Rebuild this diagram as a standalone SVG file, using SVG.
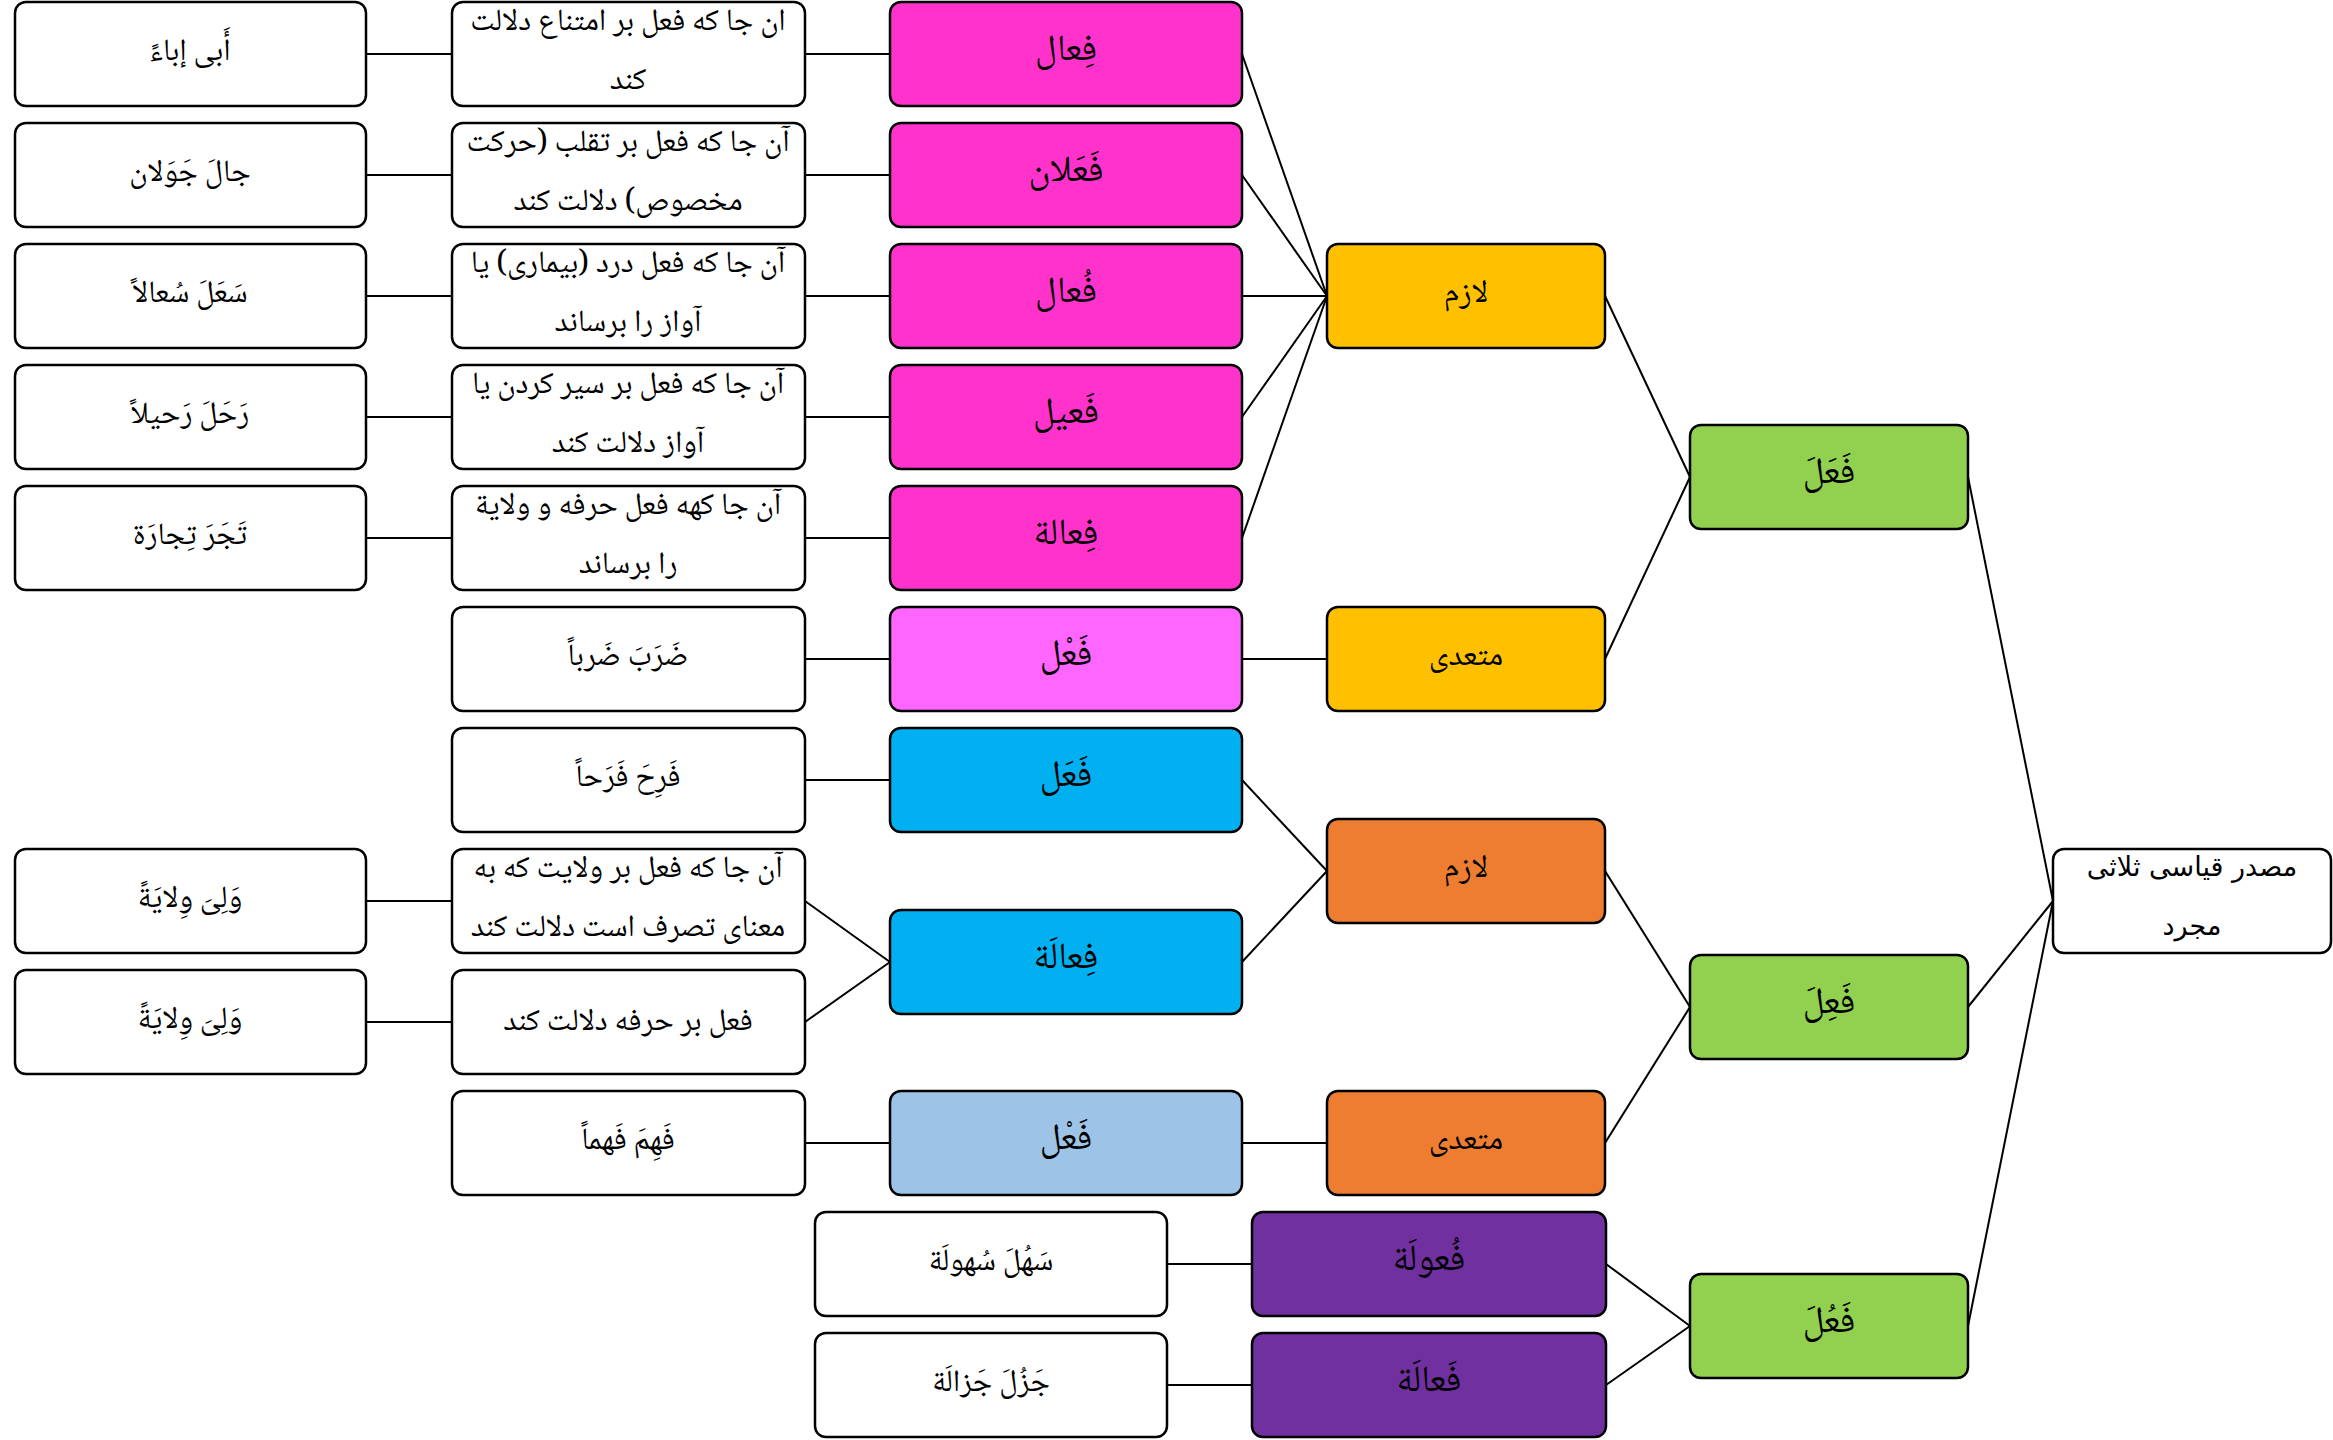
<svg xmlns="http://www.w3.org/2000/svg" width="2333" height="1440" viewBox="0 0 2333 1440">
  <style>
    .box { stroke: #000; stroke-width: 2.5; }
    .w { fill: #ffffff; }
    .mg { fill: #ff33cc; }
    .mgl { fill: #ff66ff; }
    .yl { fill: #ffc000; }
    .bl { fill: #00b0f0; }
    .lb { fill: #9dc3e6; }
    .or { fill: #ed7d31; }
    .pu { fill: #7030a0; }
    .gr { fill: #92d050; }
    text { font-family: "Noto Naskh Arabic", "Liberation Serif", "DejaVu Sans", serif; fill: #000; text-anchor: middle; direction: rtl; }
    .ex { font-size: 31px; }
    .ds { font-size: 31px; }
    .pt { font-size: 37px; }
    .ty { font-size: 32px; }
    .rt { font-family: "DejaVu Sans", "Liberation Sans", sans-serif; font-size: 27px; }
    .cn line { stroke: #000; stroke-width: 2; fill: none; }
  </style>

  <!-- connectors -->
  <g id="connectors" class="cn">
    <!-- examples to descriptions -->
    <line x1="366" y1="54" x2="452" y2="54"/>
    <line x1="366" y1="175" x2="452" y2="175"/>
    <line x1="366" y1="296" x2="452" y2="296"/>
    <line x1="366" y1="417" x2="452" y2="417"/>
    <line x1="366" y1="538" x2="452" y2="538"/>
    <line x1="366" y1="901" x2="452" y2="901"/>
    <line x1="366" y1="1022" x2="452" y2="1022"/>
    <!-- descriptions to patterns -->
    <line x1="805" y1="54" x2="890" y2="54"/>
    <line x1="805" y1="175" x2="890" y2="175"/>
    <line x1="805" y1="296" x2="890" y2="296"/>
    <line x1="805" y1="417" x2="890" y2="417"/>
    <line x1="805" y1="538" x2="890" y2="538"/>
    <line x1="805" y1="659" x2="890" y2="659"/>
    <line x1="805" y1="780" x2="890" y2="780"/>
    <line x1="805" y1="901" x2="890" y2="962"/>
    <line x1="805" y1="1022" x2="890" y2="962"/>
    <line x1="805" y1="1143" x2="890" y2="1143"/>
    <line x1="1167" y1="1264" x2="1252" y2="1264"/>
    <line x1="1167" y1="1385" x2="1252" y2="1385"/>
    <!-- patterns to transitivity -->
    <line x1="1242" y1="54" x2="1327" y2="296"/>
    <line x1="1242" y1="175" x2="1327" y2="296"/>
    <line x1="1242" y1="296" x2="1327" y2="296"/>
    <line x1="1242" y1="417" x2="1327" y2="296"/>
    <line x1="1242" y1="538" x2="1327" y2="296"/>
    <line x1="1242" y1="659" x2="1327" y2="659"/>
    <line x1="1242" y1="780" x2="1327" y2="871"/>
    <line x1="1242" y1="962" x2="1327" y2="871"/>
    <line x1="1242" y1="1143" x2="1327" y2="1143"/>
    <!-- to verb forms -->
    <line x1="1605" y1="296" x2="1690" y2="477"/>
    <line x1="1605" y1="659" x2="1690" y2="477"/>
    <line x1="1605" y1="871" x2="1690" y2="1007"/>
    <line x1="1605" y1="1143" x2="1690" y2="1007"/>
    <line x1="1606" y1="1264" x2="1690" y2="1326"/>
    <line x1="1606" y1="1385" x2="1690" y2="1326"/>
    <!-- verb forms to root -->
    <line x1="1968" y1="477" x2="2053" y2="901"/>
    <line x1="1968" y1="1007" x2="2053" y2="901"/>
    <line x1="1968" y1="1326" x2="2053" y2="901"/>
  </g>

  <!-- example words -->
  <g id="ex1"><rect class="box w" x="15" y="2" width="351" height="104" rx="11"/><text class="ex" x="190" y="60">أَبی إباءً</text></g>
  <g id="ex2"><rect class="box w" x="15" y="123" width="351" height="104" rx="11"/><text class="ex" x="190" y="181">جالَ جَوَلان</text></g>
  <g id="ex3"><rect class="box w" x="15" y="244" width="351" height="104" rx="11"/><text class="ex" x="190" y="302">سَعَلَ سُعالاً</text></g>
  <g id="ex4"><rect class="box w" x="15" y="365" width="351" height="104" rx="11"/><text class="ex" x="190" y="423">رَحَلَ رَحیلاً</text></g>
  <g id="ex5"><rect class="box w" x="15" y="486" width="351" height="104" rx="11"/><text class="ex" x="190" y="544">تَجَرَ تِجارَة</text></g>
  <g id="ex8"><rect class="box w" x="15" y="849" width="351" height="104" rx="11"/><text class="ex" x="190" y="907">وَلِیَ وِلایَةً</text></g>
  <g id="ex9"><rect class="box w" x="15" y="970" width="351" height="104" rx="11"/><text class="ex" x="190" y="1028">وَلِیَ وِلایَةً</text></g>

  <!-- descriptions -->
  <g id="ds1"><rect class="box w" x="452" y="2" width="353" height="104" rx="11"/><text class="ds" x="628" y="30">ان جا که فعل بر امتناع دلالت</text><text class="ds" x="628" y="89">کند</text></g>
  <g id="ds2"><rect class="box w" x="452" y="123" width="353" height="104" rx="11"/><text class="ds" x="628" y="151">آن جا که فعل بر تقلب (حرکت</text><text class="ds" x="628" y="210">مخصوص) دلالت کند</text></g>
  <g id="ds3"><rect class="box w" x="452" y="244" width="353" height="104" rx="11"/><text class="ds" x="628" y="272">آن جا که فعل درد (بیماری) یا</text><text class="ds" x="628" y="331">آواز را برساند</text></g>
  <g id="ds4"><rect class="box w" x="452" y="365" width="353" height="104" rx="11"/><text class="ds" x="628" y="393">آن جا که فعل بر سیر کردن یا</text><text class="ds" x="628" y="452">آواز دلالت کند</text></g>
  <g id="ds5"><rect class="box w" x="452" y="486" width="353" height="104" rx="11"/><text class="ds" x="628" y="514">آن جا کهه فعل حرفه و ولایة</text><text class="ds" x="628" y="573">را برساند</text></g>
  <g id="ds6"><rect class="box w" x="452" y="607" width="353" height="104" rx="11"/><text class="ex" x="628" y="665">ضَرَبَ ضَرباً</text></g>
  <g id="ds7"><rect class="box w" x="452" y="728" width="353" height="104" rx="11"/><text class="ex" x="628" y="786">فَرِحَ فَرَحاً</text></g>
  <g id="ds8"><rect class="box w" x="452" y="849" width="353" height="104" rx="11"/><text class="ds" x="628" y="877">آن جا که فعل بر ولایت که به</text><text class="ds" x="628" y="936">معنای تصرف است دلالت کند</text></g>
  <g id="ds9"><rect class="box w" x="452" y="970" width="353" height="104" rx="11"/><text class="ds" x="628" y="1030">فعل بر حرفه دلالت کند</text></g>
  <g id="ds10"><rect class="box w" x="452" y="1091" width="353" height="104" rx="11"/><text class="ex" x="628" y="1149">فَهِمَ فَهماً</text></g>
  <g id="ds11"><rect class="box w" x="815" y="1212" width="352" height="104" rx="11"/><text class="ex" x="991" y="1270">سَهُلَ سُهولَة</text></g>
  <g id="ds12"><rect class="box w" x="815" y="1333" width="352" height="104" rx="11"/><text class="ex" x="991" y="1391">جَزُلَ جَزالَة</text></g>

  <!-- masdar patterns -->
  <g id="pt1"><rect class="box mg" x="890" y="2" width="352" height="104" rx="11"/><text class="pt" x="1066" y="60">فِعال</text></g>
  <g id="pt2"><rect class="box mg" x="890" y="123" width="352" height="104" rx="11"/><text class="pt" x="1066" y="181">فَعَلان</text></g>
  <g id="pt3"><rect class="box mg" x="890" y="244" width="352" height="104" rx="11"/><text class="pt" x="1066" y="302">فُعال</text></g>
  <g id="pt4"><rect class="box mg" x="890" y="365" width="352" height="104" rx="11"/><text class="pt" x="1066" y="423">فَعیل</text></g>
  <g id="pt5"><rect class="box mg" x="890" y="486" width="352" height="104" rx="11"/><text class="pt" x="1066" y="544">فِعالة</text></g>
  <g id="pt6"><rect class="box mgl" x="890" y="607" width="352" height="104" rx="11"/><text class="pt" x="1066" y="665">فَعْل</text></g>
  <g id="pt7"><rect class="box bl" x="890" y="728" width="352" height="104" rx="11"/><text class="pt" x="1066" y="786">فَعَل</text></g>
  <g id="pt8"><rect class="box bl" x="890" y="910" width="352" height="104" rx="11"/><text class="pt" x="1066" y="968">فِعالَة</text></g>
  <g id="pt10"><rect class="box lb" x="890" y="1091" width="352" height="104" rx="11"/><text class="pt" x="1066" y="1149">فَعْل</text></g>
  <g id="pt11"><rect class="box pu" x="1252" y="1212" width="354" height="104" rx="11"/><text class="pt" x="1429" y="1270">فُعولَة</text></g>
  <g id="pt12"><rect class="box pu" x="1252" y="1333" width="354" height="104" rx="11"/><text class="pt" x="1429" y="1391">فَعالَة</text></g>

  <!-- transitivity -->
  <g id="ty1"><rect class="box yl" x="1327" y="244" width="278" height="104" rx="11"/><text class="ty" x="1466" y="302">لازم</text></g>
  <g id="ty2"><rect class="box yl" x="1327" y="607" width="278" height="104" rx="11"/><text class="ty" x="1466" y="665">متعدی</text></g>
  <g id="ty3"><rect class="box or" x="1327" y="819" width="278" height="104" rx="11"/><text class="ty" x="1466" y="877">لازم</text></g>
  <g id="ty4"><rect class="box or" x="1327" y="1091" width="278" height="104" rx="11"/><text class="ty" x="1466" y="1149">متعدی</text></g>

  <!-- verb forms -->
  <g id="vf1"><rect class="box gr" x="1690" y="425" width="278" height="104" rx="11"/><text class="pt" x="1829" y="483">فَعَلَ</text></g>
  <g id="vf2"><rect class="box gr" x="1690" y="955" width="278" height="104" rx="11"/><text class="pt" x="1829" y="1013">فَعِلَ</text></g>
  <g id="vf3"><rect class="box gr" x="1690" y="1274" width="278" height="104" rx="11"/><text class="pt" x="1829" y="1332">فَعُلَ</text></g>

  <!-- root -->
  <g id="root"><rect class="box w" x="2053" y="849" width="278" height="104" rx="11"/><text class="rt" x="2192" y="876">مصدر قیاسی ثلاثی</text><text class="rt" x="2192" y="935">مجرد</text></g>
</svg>
